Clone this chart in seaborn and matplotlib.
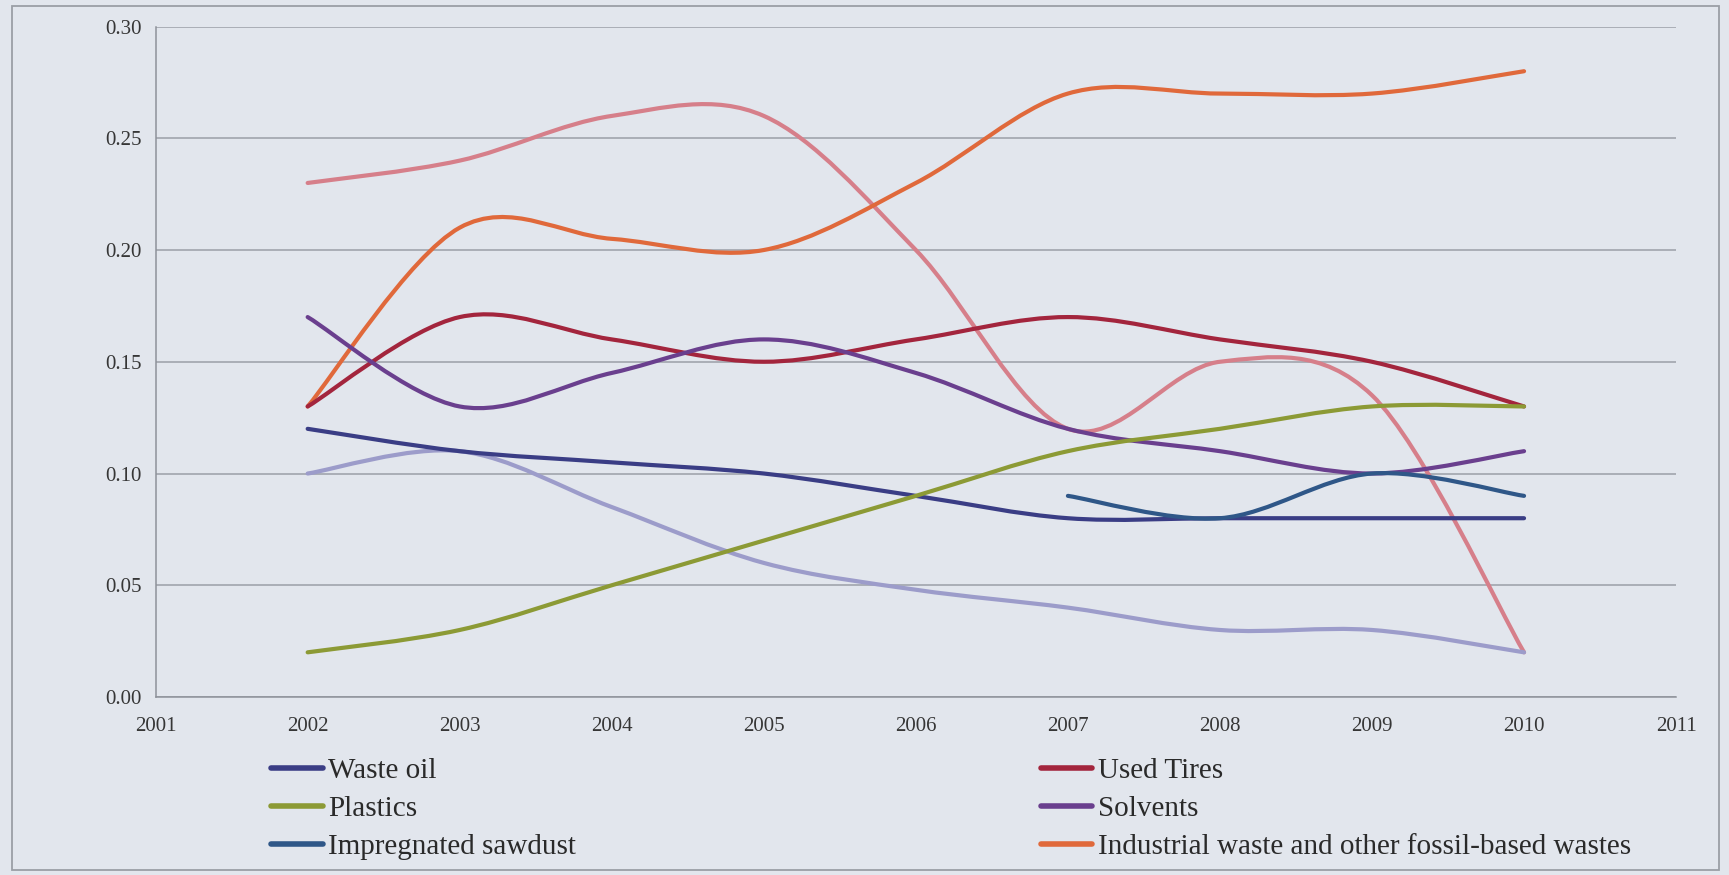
import numpy as np
import matplotlib
matplotlib.use("Agg")
import matplotlib.pyplot as plt
from matplotlib.path import Path
from matplotlib.patches import PathPatch, Rectangle
from matplotlib.lines import Line2D
import seaborn as sns

# ---- data -------------------------------------------------------------
years = [2002, 2003, 2004, 2005, 2006, 2007, 2008, 2009, 2010]
waste_oil = [0.12, 0.11, 0.105, 0.10, 0.09, 0.08, 0.08, 0.08, 0.08]
used_tires = [0.13, 0.17, 0.16, 0.15, 0.16, 0.17, 0.16, 0.15, 0.13]
plastics = [0.02, 0.03, 0.05, 0.07, 0.09, 0.11, 0.12, 0.13, 0.13]
solvents = [0.17, 0.13, 0.145, 0.16, 0.145, 0.12, 0.11, 0.10, 0.11]
industrial = [0.13, 0.21, 0.205, 0.20, 0.23, 0.27, 0.27, 0.27, 0.28]
pink_series = [0.23, 0.24, 0.26, 0.26, 0.20, 0.12, 0.15, 0.135, 0.02]
lavender_series = [0.10, 0.11, 0.085, 0.06, 0.048, 0.04, 0.03, 0.03, 0.02]
sawdust_years = [2007, 2008, 2009, 2010]
sawdust = [0.09, 0.08, 0.10, 0.09]

x_ticks = list(range(2001, 2012))
y_ticks = [0.00, 0.05, 0.10, 0.15, 0.20, 0.25, 0.30]

colors = {
    "Waste oil": "#3a3d85",
    "Used Tires": "#a3253d",
    "Plastics": "#8c9a35",
    "Solvents": "#6a3f8e",
    "Impregnated sawdust": "#2f5788",
    "Industrial waste and other fossil-based wastes": "#e0693b",
    "pink": "#d67f8a",
    "lavender": "#9c9cca",
}

# ---- style ------------------------------------------------------------
bg = "#e2e6ed"
sns.set_theme(style="whitegrid", rc={
    "axes.facecolor": bg,
    "figure.facecolor": bg,
    "grid.color": "#9b9fa7",
    "grid.linewidth": 1.1,
    "axes.edgecolor": "#8e929a",
})
plt.rcParams["font.family"] = ["Liberation Serif", "DejaVu Serif"]
palette = sns.color_palette(list(colors.values()))


def smooth_path(xs, ys):
    """Excel-style smoothed line: cubic Bezier segments through the points."""
    pts = np.column_stack([xs, ys]).astype(float)
    n = len(pts)
    verts = [pts[0]]
    codes = [Path.MOVETO]
    for i in range(n - 1):
        p0 = pts[i - 1] if i > 0 else pts[i]
        p1 = pts[i]
        p2 = pts[i + 1]
        p3 = pts[i + 2] if i + 2 < n else pts[i + 1]
        verts += [p1 + (p2 - p0) / 6.0, p2 - (p3 - p1) / 6.0, p2]
        codes += [Path.CURVE4] * 3
    return Path(verts, codes)


fig = plt.figure(figsize=(17.29, 8.75), dpi=100)
ax = fig.add_axes([0.090, 0.2034, 0.8794, 0.7663])

series = [
    (years, pink_series, colors["pink"]),
    (years, industrial, colors["Industrial waste and other fossil-based wastes"]),
    (years, used_tires, colors["Used Tires"]),
    (years, solvents, colors["Solvents"]),
    (years, lavender_series, colors["lavender"]),
    (years, waste_oil, colors["Waste oil"]),
    (years, plastics, colors["Plastics"]),
    (sawdust_years, sawdust, colors["Impregnated sawdust"]),
]
for xs, ys, c in series:
    ax.add_patch(PathPatch(smooth_path(xs, ys), facecolor="none", edgecolor=c,
                           lw=3.0, capstyle="round", joinstyle="round", zorder=3))

ax.set_xlim(2001, 2011)
ax.set_ylim(0, 0.30)
ax.set_xticks(x_ticks)
ax.set_xticklabels([str(v) for v in x_ticks])
ax.set_yticks(y_ticks)
ax.set_yticklabels([f"{v:.2f}" for v in y_ticks])
ax.grid(axis="x", visible=False)
ax.grid(axis="y", visible=True)
for side in ["top", "right"]:
    ax.spines[side].set_visible(False)
for side in ["left", "bottom"]:
    ax.spines[side].set_color("#8e929a")
    ax.spines[side].set_linewidth(1.1)
ax.tick_params(axis="both", which="major", length=6, width=1.1, color="#8e929a",
               labelsize=15, labelcolor="#363636", direction="out")
ax.tick_params(axis="x", pad=8.5)
ax.tick_params(axis="y", pad=4)

# ---- legend -----------------------------------------------------------
def handles_for(names):
    return [Line2D([0], [0], color=colors[n], lw=4) for n in names]

left_names = ["Waste oil", "Plastics", "Impregnated sawdust"]
right_names = ["Used Tires", "Solvents", "Industrial waste and other fossil-based wastes"]
leg_kw = dict(frameon=False, fontsize=21, handlelength=1.76, handletextpad=0.19,
              labelspacing=0.40, borderpad=0.0, labelcolor="#2a2a2a")
fig.legend(handles_for(left_names), left_names, loc="upper left",
           bbox_to_anchor=(0.1485, 0.1505), **leg_kw)
fig.legend(handles_for(right_names), right_names, loc="upper left",
           bbox_to_anchor=(0.5935, 0.1505), **leg_kw)

# outer chart border
fig.patches.append(Rectangle((0.007, 0.006), 0.987, 0.987, transform=fig.transFigure,
                             fill=False, edgecolor="#9a9ea6", lw=1.3))

fig.savefig("out.png", dpi=100, facecolor=bg)
